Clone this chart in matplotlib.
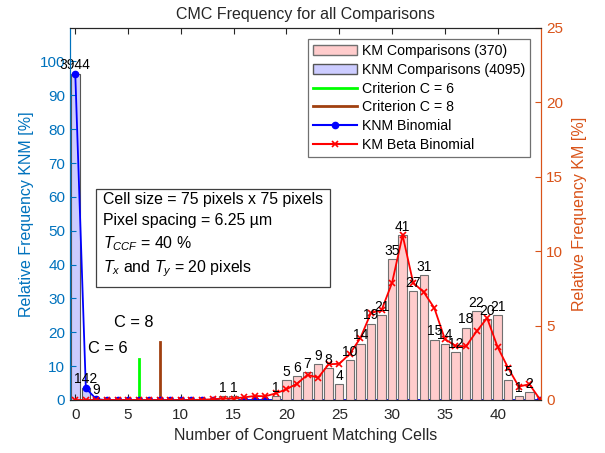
"""CMC frequency histogram: KNM vs KM comparisons with binomial fits."""

import matplotlib

matplotlib.use("Agg")
import matplotlib.pyplot as plt
import numpy as np
from matplotlib.lines import Line2D
from matplotlib.patches import Patch

plt.rcParams["font.family"] = ["Liberation Sans", "DejaVu Sans"]
plt.rcParams["mathtext.fontset"] = "custom"
plt.rcParams["mathtext.rm"] = "Liberation Sans"
plt.rcParams["mathtext.it"] = "Liberation Sans:italic"

# KNM (known non-matching) comparison counts per CMC value
KNM_X = [0, 1, 2]
KNM_COUNTS = [3944, 142, 9]
KNM_TOTAL = 4095

# KM (known matching) comparison counts per CMC value
KM_X = [14, 15, 19, 20, 21, 22, 23, 24, 25, 26, 27, 28, 29, 30, 31,
        32, 33, 34, 35, 36, 37, 38, 39, 40, 41, 42, 43]
KM_COUNTS = [1, 1, 1, 5, 6, 7, 9, 8, 4, 10, 14, 19, 21, 35, 41,
             27, 31, 15, 14, 12, 18, 22, 20, 21, 5, 1, 2]
KM_TOTAL = 370

# fitted curves, evaluated at C = 0..44 (percent)
FIT_X = list(range(45))
KNM_BINOMIAL = [96.3, 3.5, 0.2, 0, 0, 0, 0, 0, 0, 0, 0, 0, 0, 0, 0,
                0, 0, 0, 0, 0, 0, 0, 0, 0, 0, 0, 0, 0, 0, 0,
                0, 0, 0, 0, 0, 0, 0, 0, 0, 0, 0, 0, 0, 0, 0]
KM_BETA_BINOMIAL = [0, 0, 0, 0, 0, 0, 0, 0, 0, 0, 0, 0, 0.02, 0.05, 0.1,
                    0.1, 0.18, 0.27, 0.25, 0.45, 0.72, 1.1, 1.69, 1.5, 2.4,
                    2.43, 3.1, 4.16, 5.85, 6.02, 7.87, 11.06, 7.87, 7.24, 6.18,
                    4.09, 3.64, 3.6, 4.6, 5.5, 3.55, 2.14, 0.9, 1.06, 0.05]

# decision criteria (x position, line height on KNM axis)
CRIT6 = (6, 12)
CRIT8 = (8, 17)

LEFT_COLOR = "#0072BD"
RIGHT_COLOR = "#D95319"
AX_GRAY = "#262626"

knm_pct = np.array(KNM_COUNTS) / KNM_TOTAL * 100
km_pct = np.array(KM_COUNTS) / KM_TOTAL * 100

fig = plt.figure(figsize=(6.05, 4.53), dpi=100)
ax1 = fig.add_axes([0.1157, 0.117, 0.7793, 0.822])
ax2 = ax1.twinx()

# left axis: KNM
ax1.bar(KNM_X, knm_pct, width=0.8, color="#CCCCFF", edgecolor="#555555",
        lw=0.8)
for x, c, p in zip(KNM_X, KNM_COUNTS, knm_pct):
    ax1.text(x, p + 0.6, str(c), ha="center", va="bottom", fontsize=10)
ax1.plot([CRIT6[0]] * 2, [0, CRIT6[1]], color="#00FF00", lw=2)
ax1.plot([CRIT8[0]] * 2, [0, CRIT8[1]], color="#A0400F", lw=2)
ax1.text(3.1, 15.1, "C = 6", ha="center", va="center", fontsize=11.8)
ax1.text(5.5, 22.8, "C = 8", ha="center", va="center", fontsize=11.8)
ax1.plot(FIT_X, KNM_BINOMIAL, color="blue", marker="o", ms=4.5, lw=1.3)

# right axis: KM
ax2.bar(KM_X, km_pct, width=0.8, color="#FFCCCC", edgecolor="#707070",
        lw=0.8)
for x, c, p in zip(KM_X, KM_COUNTS, km_pct):
    ax2.text(x, p + 0.08, str(c), ha="center", va="bottom", fontsize=10)
ax2.plot(FIT_X, KM_BETA_BINOMIAL, color="red", marker="x", ms=5, lw=1.3,
         mew=1.2)

ax1.set_xlim(-0.5, 44.15)
ax1.set_ylim(0, 110)
ax2.set_ylim(0, 25)
ax1.set_xticks(np.arange(0, 41, 5))
ax1.set_yticks(np.arange(0, 101, 10))
ax2.set_yticks(np.arange(0, 26, 5))

ax1.tick_params(axis="x", direction="in", top=True, colors=AX_GRAY,
                labelsize=11, length=4, pad=6)
ax1.tick_params(axis="y", direction="in", colors=LEFT_COLOR, labelsize=11,
                length=4)
ax2.tick_params(axis="y", direction="in", colors=RIGHT_COLOR, labelsize=11,
                length=4)
for ax in (ax1, ax2):
    ax.spines["top"].set_color(AX_GRAY)
    ax.spines["bottom"].set_color(AX_GRAY)
    ax.spines["left"].set_color(LEFT_COLOR)
    ax.spines["right"].set_color(RIGHT_COLOR)

ax1.set_xlabel("Number of Congruent Matching Cells", fontsize=11.5,
               color=AX_GRAY)
ax1.set_ylabel("Relative Frequency KNM [%]", fontsize=11.5, color=LEFT_COLOR,
               labelpad=4)
ax2.set_ylabel("Relative Frequency KM [%]", fontsize=11.5, color=RIGHT_COLOR,
               labelpad=6)
ax1.set_title("CMC Frequency for all Comparisons", fontsize=11.5,
              color=AX_GRAY, pad=6)

ax1.text(0.07, 0.558,
         "Cell size = 75 pixels x 75 pixels\n"
         "Pixel spacing = 6.25 µm\n"
         "$T_{CCF}$ = 40 %\n"
         "$T_x$ and $T_y$ = 20 pixels",
         transform=ax1.transAxes, ha="left", va="top", fontsize=11.4,
         linespacing=1.45, zorder=10,
         bbox=dict(boxstyle="square,pad=0.45", fc="white", ec="#404040",
                   lw=0.9))

handles = [
    Patch(facecolor="#FFCCCC", edgecolor="#707070", label="KM Comparisons (370)"),
    Patch(facecolor="#CCCCFF", edgecolor="#555555", label="KNM Comparisons (4095)"),
    Line2D([], [], color="#00FF00", lw=2, label="Criterion C = 6"),
    Line2D([], [], color="#A0400F", lw=2, label="Criterion C = 8"),
    Line2D([], [], color="blue", marker="o", ms=4.5, label="KNM Binomial"),
    Line2D([], [], color="red", marker="x", ms=5, mew=1.2, label="KM Beta Binomial"),
]
leg = ax2.legend(handles=handles, loc="upper right", fontsize=10.2,
                 fancybox=False, framealpha=1, edgecolor="#707070",
                 handlelength=3.1, handletextpad=0.35, labelspacing=0.34,
                 borderaxespad=0.8, borderpad=0.35)
leg.get_frame().set_linewidth(0.9)

fig.savefig("out.png", dpi=100)
